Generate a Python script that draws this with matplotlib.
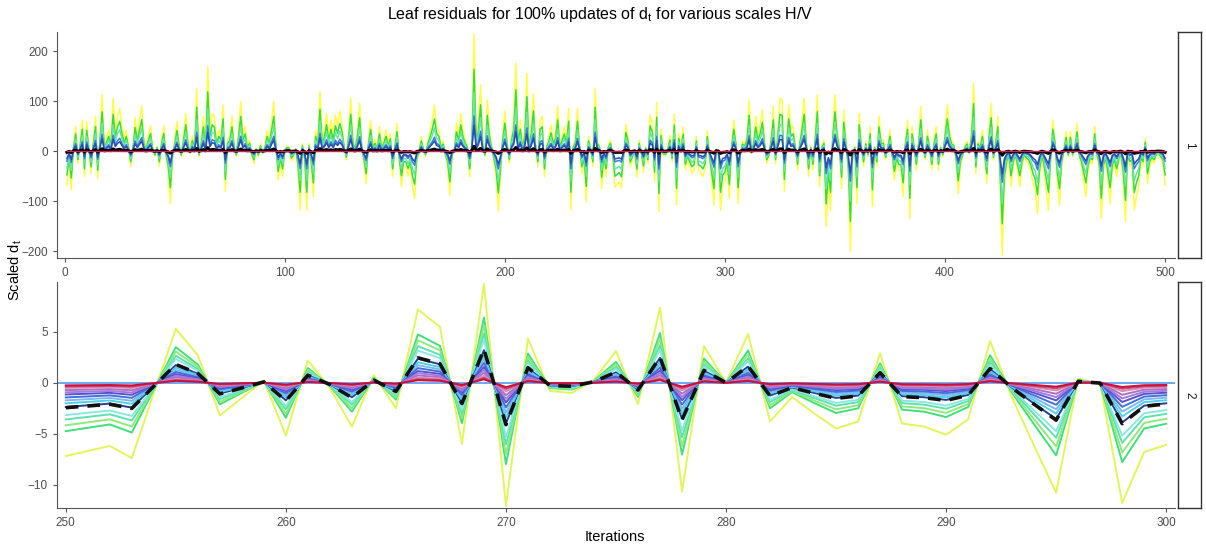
import numpy as np
import matplotlib.pyplot as plt
from matplotlib.patches import Rectangle

plt.rcParams['font.family'] = ['Liberation Sans', 'DejaVu Sans']

# Residuos de la hoja (serie de mayor escala), iteraciones 1..500
resid_full = [
    -68, -20, -77, 10, 49, -25, 15, 62, -51, 59, 5, -45, 20, 70, -55, 30, 112, 9, 25, 42,
    15, 105, 40, 69, 85, 50, 22, 42, 10, -31, 5, 67, 30, 60, 90, 22, 5, 30, 50, 5,
    -11, 10, -31, 20, 50, -10, -40, -105, -11, 20, 59, 15, -11, 30, 75, 20, -5, 30, 10, 125,
    -11, 20, 69, 10, 169, 40, 75, 69, 20, 42, 30, 92, -81, 22, 30, 69, 10, -11, 40, 99,
    30, 49, 10, 22, -10, -25, 5, -11, 15, -5, 10, 42, 20, 60, 99, 10, -58, -21, -51, 0,
    10, 8, -20, -11, 5, -40, -118, 15, -20, -118, 15, -30, -91, 42, 20, 119, 22, 40, 75, 30,
    62, 30, 72, 50, 79, 55, 10, -18, 40, 105, 20, 8, 40, 95, 10, -25, -65, 20, 62, 10,
    22, 5, 49, 10, 22, 42, 15, 35, -51, 10, 55, -20, -71, -30, -31, -50, -30, -71, -95, -20,
    -5, 29, 5, -11, 20, 40, 62, 92, 50, 42, 10, 20, -11, -30, -88, -10, 0, 55, 30, 75,
    40, 22, 10, -51, 20, 234, 22, 60, 132, 10, -11, 102, 42, 10, -20, -51, -120, -51, 30, 80,
    20, -25, 30, 60, 175, 22, 62, 8, 40, 155, 8, 50, 115, 10, -31, 62, 69, -51, 10, 29,
    52, 20, 35, 89, 10, 29, 49, 20, 85, -118, 10, 22, 85, 10, -45, -20, -101, 29, 5, -31,
    125, 22, 10, -75, -18, -51, 10, 22, -10, -72, -67, -62, -74, -10, 53, 27, -32, -15, 3, -52,
    22, -5, -43, 8, -25, 72, 55, -60, 97, -121, 44, -8, -10, 3, 31, -21, 74, -107, 36, 0,
    48, -38, -14, -30, -45, -38, 29, -40, -43, -51, -36, 41, -15, -62, -108, 4, -1, -118, -68, -61,
    -30, -95, 10, 62, 20, -105, -11, 20, 15, 30, 102, -5, 20, 69, 30, 50, 82, 20, -25, -11,
    30, 89, -25, 40, 105, 102, -81, 20, 92, 42, 49, 10, -38, 20, 60, 105, 22, -51, 10, -38,
    30, 112, -71, 10, 22, -151, -60, -118, 40, 112, 42, 10, -75, 82, 20, -38, -201, -11, 10, -105,
    75, 10, -31, 20, -11, 49, -111, 10, -31, 69, 20, 22, -18, 10, 42, -10, -58, -20, -38, -40,
    -91, 20, 62, -135, 49, 10, -38, 20, 89, 10, -18, 42, 10, -38, 20, 49, -38, 10, -11, 40,
    92, 42, 20, 15, -20, -85, -30, -11, 10, 20, -5, 40, 135, -45, 20, 8, 42, -10, -65, 40,
    95, -18, 20, 69, -60, -208, -71, -30, -11, -71, -30, -11, -40, -71, -30, -11, -20, -25, -40, -65,
    -80, -125, -50, -11, -40, -80, -118, -20, 62, 22, -60, -108, -30, 0, 39, -11, 39, -11, 10, 55,
    -11, -30, -60, -91, -40, -20, -25, 49, -10, -31, -135, -40, -18, -60, -105, -40, -25, -51, -20, -11,
    -60, -141, -11, -30, -25, -118, -90, -71, -18, -30, 25, -65, -30, -18, -25, -10, -5, -15, -25, -68,
]
iters_full = np.arange(1, len(resid_full) + 1)

# Escalas H/V del panel 1 y sus colores
scales_full = [1.0, 0.7, 0.5, 0.3, 0.22, 0.04]
colors_full = ['#ffff44', '#33dd44', '#66e6a0', '#3a7be0', '#2a4db0', 'black']
widths_full = [1.1, 1.1, 1.1, 1.1, 1.1, 2.2]

# Panel 2: iteraciones 250..300
iters_zoom = np.arange(250, 301)
resid_zoom = [
    -7.2, -6.7, -6.2, -7.4, -1.0, 5.3, 2.7, -3.2, -1.5, 0.25,
    -5.2, 2.2, -0.5, -4.3, 0.75, -2.5, 7.2, 5.5, -6.0, 9.7,
    -12.1, 4.35, -0.8, -1.0, 0.3, 3.1, -2.1, 7.4, -10.7, 3.6,
    0.0, 4.8, -3.8, -1.4, -3.0, -4.5, -3.8, 2.9, -4.0, -4.3,
    -5.1, -3.6, 4.1, -1.5, -6.2, -10.8, 0.4, -0.1, -11.8, -6.8,
    -6.1,
]
scales_zoom = [1.0, 0.66, 0.58, 0.5, 0.44, 0.33, 0.28, 0.24, 0.2, 0.16, 0.13, 0.1, 0.07, 0.05, 0.035]
colors_zoom = ['#e3f55a', '#3fe07a', '#8fea7a', '#5ee0b0', '#8ae8e0', '#1f3f99', '#4fd0e8',
               '#7fb8f0', '#3f6fe0', '#5a4fcf', '#a07be0', '#b070c0', '#d090b8', '#d04070', '#c8103c']
dashed_scale = 0.34

fig = plt.figure(figsize=(12.06, 5.47), dpi=100)
W, H = 1206, 547
ax1 = fig.add_axes([57 / W, 1 - 258 / H, 1118 / W, 226 / H])
ax2 = fig.add_axes([57 / W, 1 - 508 / H, 1118 / W, 226 / H])

res1 = np.array(resid_full, dtype=float)
for s, c, lw in zip(scales_full, colors_full, widths_full):
    ax1.plot(iters_full, res1 * s, color=c, lw=lw, solid_joinstyle='round')
ax1.plot(iters_full, res1 * 0, color='#cc2255', lw=1.0)

res2 = np.array(resid_zoom, dtype=float)
ax2.axhline(0, color='#5599ee', lw=1.2)
for s, c in zip(scales_zoom, colors_zoom):
    ax2.plot(iters_zoom, res2 * s, color=c, lw=1.4)
ax2.plot(iters_zoom, res2 * dashed_scale, color='#111111', lw=2.6, ls=(0, (3.5, 2.5)))

ax1.set_xlim(-3.5, 504.5)
ax1.set_ylim(-214, 238)
ax1.set_xticks([0, 100, 200, 300, 400, 500])
ax1.set_yticks([-200, -100, 0, 100, 200])
ax2.set_xlim(249.6, 300.4)
ax2.set_ylim(-12.3, 9.9)
ax2.set_xticks([250, 260, 270, 280, 290, 300])
ax2.set_yticks([-10, -5, 0, 5])

for ax in (ax1, ax2):
    for side in ('top', 'right'):
        ax.spines[side].set_visible(False)
    for side in ('left', 'bottom'):
        ax.spines[side].set_color('#555555')
        ax.spines[side].set_linewidth(0.8)
    ax.tick_params(colors='#555555', labelcolor='#4d4d4d', labelsize=8.5, length=3, width=0.8)

# Etiquetas de faceta a la derecha
for label, y0 in (('1', 1 - 258 / H), ('2', 1 - 508 / H)):
    sax = fig.add_axes([1178 / W, y0, 23 / W, 226 / H])
    sax.set_xticks([])
    sax.set_yticks([])
    for sp in sax.spines.values():
        sp.set_color('#333333')
        sp.set_linewidth(1.0)
    sax.text(0.5, 0.5, label, rotation=270, ha='center', va='center',
             fontsize=8.5, color='#1a1a1a', transform=sax.transAxes)

fig.text(600 / W, 1 - 14 / H, r'Leaf residuals for 100% updates of d$\mathregular{_t}$ for various scales H/V',
         ha='center', va='center', fontsize=11.5)
fig.text(615 / W, 1 - 537 / H, 'Iterations', ha='center', va='center', fontsize=10.5)
fig.text(15 / W, 1 - 270 / H, r'Scaled d$\mathregular{_t}$', ha='center', va='center',
         rotation=90, fontsize=10.5)

fig.savefig('out.png', dpi=100)
